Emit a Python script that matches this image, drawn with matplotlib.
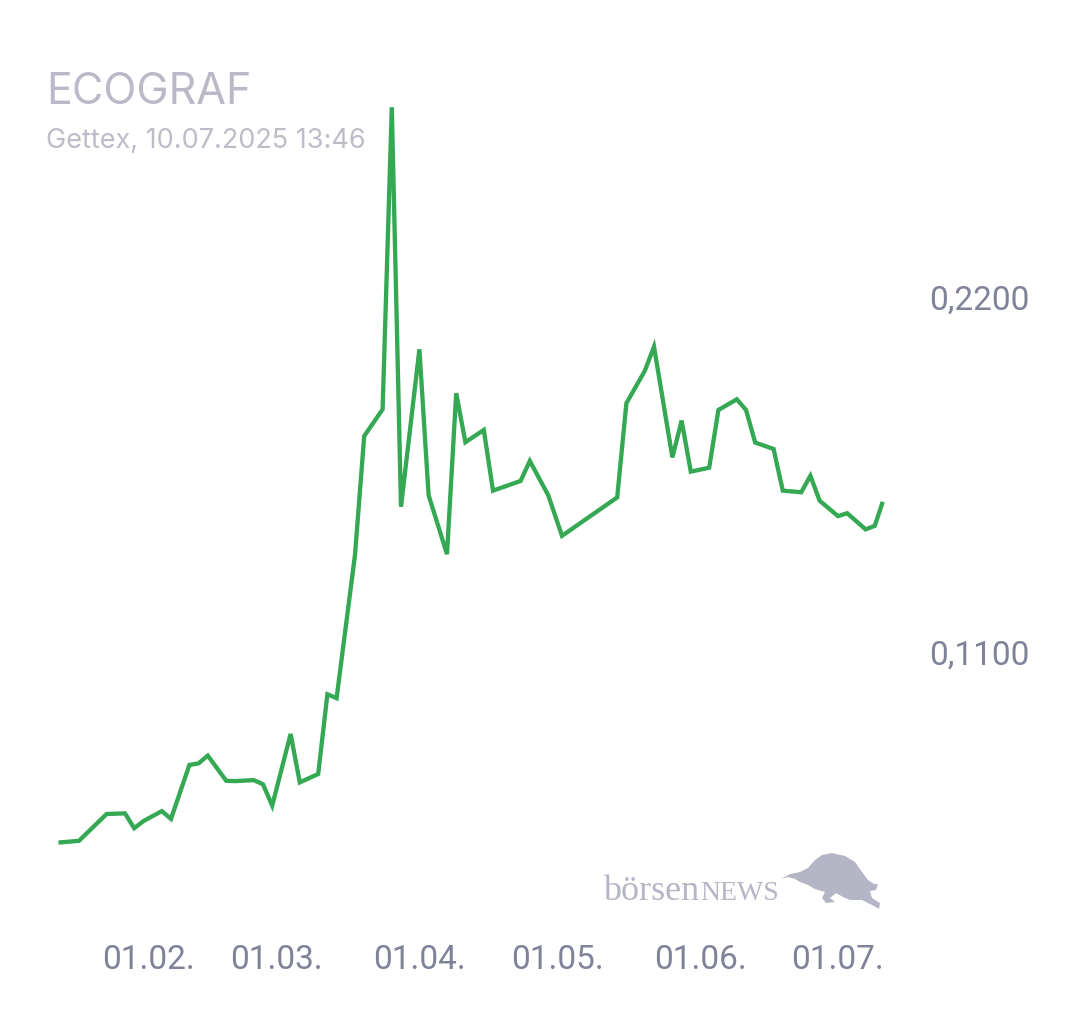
import pandas as pd
import matplotlib
matplotlib.use("Agg")
import matplotlib.pyplot as plt
from matplotlib.patches import Polygon

# price series (Gettex)
dates = [
    "2025-01-13", "2025-01-17", "2025-01-23", "2025-01-27", "2025-01-29", "2025-01-31",
    "2025-02-04", "2025-02-06", "2025-02-10", "2025-02-12", "2025-02-14", "2025-02-18",
    "2025-02-20", "2025-02-24", "2025-02-26", "2025-02-28", "2025-03-04", "2025-03-06",
    "2025-03-10", "2025-03-12", "2025-03-14", "2025-03-18", "2025-03-20", "2025-03-24",
    "2025-03-26", "2025-03-28", "2025-04-01", "2025-04-03", "2025-04-07", "2025-04-09",
    "2025-04-11", "2025-04-15", "2025-04-17", "2025-04-23", "2025-04-25", "2025-04-29",
    "2025-05-02", "2025-05-14", "2025-05-16", "2025-05-20", "2025-05-22", "2025-05-26",
    "2025-05-28", "2025-05-30", "2025-06-03", "2025-06-05", "2025-06-09", "2025-06-11",
    "2025-06-13", "2025-06-17", "2025-06-19", "2025-06-23", "2025-06-25", "2025-06-27",
    "2025-07-01", "2025-07-03", "2025-07-07", "2025-07-09", "2025-07-10 13:46",
]
prices = [
    0.0510, 0.0515, 0.0598, 0.0600, 0.0554, 0.0576,
    0.0607, 0.0583, 0.0750, 0.0755, 0.0779, 0.0701,
    0.0700, 0.0703, 0.0690, 0.0624, 0.0846, 0.0696,
    0.0722, 0.0969, 0.0957, 0.1401, 0.1769, 0.1852,
    0.2788, 0.1550, 0.2038, 0.1586, 0.1403, 0.1902,
    0.1750, 0.1788, 0.1600, 0.1630, 0.1692, 0.1586,
    0.1460, 0.1579, 0.1871, 0.1971, 0.2046, 0.1703,
    0.1817, 0.1659, 0.1671, 0.1850, 0.1883, 0.1850,
    0.1749, 0.1729, 0.1600, 0.1595, 0.1646, 0.1569,
    0.1521, 0.1530, 0.1480, 0.1491, 0.1559,
]
month_ticks = ["2025-02-01", "2025-03-01", "2025-04-01", "2025-05-01", "2025-06-01", "2025-07-01"]
month_labels = ["01.02.", "01.03.", "01.04.", "01.05.", "01.06.", "01.07."]
y_ticks = [0.11, 0.22]
y_labels = ["0,1100", "0,2200"]

W, H = 1080, 1013
fig = plt.figure(figsize=(W / 100, H / 100), dpi=100)

# axes box in pixels
left, right, top, bottom = 40, 900, 90, 925
ax = fig.add_axes([left / W, 1 - bottom / H, (right - left) / W, (bottom - top) / H])

x = pd.to_datetime(dates, format="mixed")
ax.plot(x, prices, color="#34a853", lw=3.1, solid_joinstyle="miter", clip_on=False)

px_per_day = 4.6
feb1 = pd.Timestamp("2025-02-01")
ax.set_xlim(feb1 + pd.Timedelta(days=(left - 148) / px_per_day),
            feb1 + pd.Timedelta(days=(right - 148) / px_per_day))
px_per_unit = 355 / 0.11
ax.set_ylim(0.11 - (bottom - 652) / px_per_unit, 0.11 + (652 - top) / px_per_unit)

tick_color = "#7f8299"
ax.set_xticks(pd.to_datetime(month_ticks))
ax.set_xticklabels(month_labels)
ax.set_yticks(y_ticks)
ax.set_yticklabels(y_labels)
ax.yaxis.tick_right()
ax.tick_params(axis="x", length=0, pad=14, labelsize=24, labelcolor=tick_color)
ax.tick_params(axis="y", length=0, pad=21, labelsize=24, labelcolor=tick_color)
for lab in ax.get_xticklabels() + ax.get_yticklabels():
    lab.set_fontfamily("Roboto")
for s in ax.spines.values():
    s.set_visible(False)

# title block
fig.text(46 / W, 1 - 104 / H, "ECOGRAF", fontsize=31, family="Inter",
         color="#b9b9c8", va="baseline")
fig.text(46 / W, 1 - 148 / H, "Gettex, 10.07.2025 13:46", fontsize=19.5, family="Inter",
         color="#bdbdca", va="baseline")

# börsenNEWS logo
logo = "#b4b5c5"
fig.text(603 / W, 1 - 900 / H, "börsen", fontsize=26, family="Liberation Serif",
         color=logo, va="baseline")
fig.text(700 / W, 1 - 900 / H, "NEWS", fontsize=20, family="Liberation Serif",
         color=logo, va="baseline")
bull = [(781, 879), (790, 874), (800, 872), (808, 868), (815, 860), (822, 855), (832, 853),
        (845, 856), (855, 862), (862, 872), (868, 880), (874, 884), (878, 884), (876, 890),
        (870, 891), (872, 898), (880, 903), (879, 909), (872, 905), (862, 900), (850, 900),
        (843, 897), (836, 893), (830, 898), (835, 902), (826, 903), (822, 898), (825, 892),
        (815, 889), (808, 885), (800, 882), (795, 879), (788, 877)]
fig.patches.append(Polygon([(bx / W, 1 - by / H) for bx, by in bull], closed=True,
                           transform=fig.transFigure, facecolor=logo, edgecolor="none"))

fig.savefig("out.png", dpi=100)
